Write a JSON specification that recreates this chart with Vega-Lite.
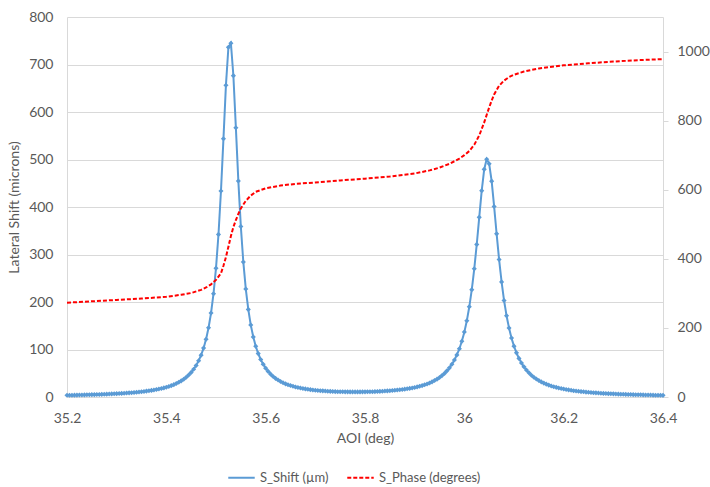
{
"$schema": "https://vega.github.io/schema/vega-lite/v6.json",
"width": 596, "height": 380,
"autosize": {"type": "none"},
"padding": {"left": 67, "top": 17, "right": 47, "bottom": 90},
"background": "white",
"config": {
 "font": "Lato",
 "view": {"stroke": null},
 "axis": {"labelColor": "#595959", "titleColor": "#595959", "labelFont": "Lato", "titleFont": "Lato", "labelFontSize": 14, "titleFontSize": 14, "titleFontWeight": "normal", "gridColor": "#D9D9D9", "domainColor": "#D9D9D9", "tickColor": "#D9D9D9", "labelFlush": false},
 "legend": {"orient": "none", "legendX": 160, "legendY": 446, "direction": "horizontal", "labelFont": "Lato", "labelFontSize": 13, "labelColor": "#595959", "symbolType": "stroke", "symbolSize": 700, "symbolStrokeWidth": 2, "columnPadding": 14}
},
"datasets": {
 "shift": [
{"a":35.200,"s":3.6},{"a":35.205,"s":3.7},{"a":35.210,"s":3.8},{"a":35.215,"s":3.9},{"a":35.220,"s":4.0},{"a":35.225,"s":4.2},{"a":35.230,"s":4.3},{"a":35.235,"s":4.4},{"a":35.240,"s":4.6},{"a":35.245,"s":4.7},
{"a":35.250,"s":4.9},{"a":35.255,"s":5.0},{"a":35.260,"s":5.2},{"a":35.265,"s":5.4},{"a":35.270,"s":5.6},{"a":35.275,"s":5.8},{"a":35.280,"s":6.0},{"a":35.285,"s":6.2},{"a":35.290,"s":6.5},{"a":35.295,"s":6.7},
{"a":35.300,"s":7.0},{"a":35.305,"s":7.3},{"a":35.310,"s":7.6},{"a":35.315,"s":8.0},{"a":35.320,"s":8.3},{"a":35.325,"s":8.7},{"a":35.330,"s":9.1},{"a":35.335,"s":9.6},{"a":35.340,"s":10.0},{"a":35.345,"s":10.5},
{"a":35.350,"s":11.1},{"a":35.355,"s":11.7},{"a":35.360,"s":12.4},{"a":35.365,"s":13.1},{"a":35.370,"s":13.9},{"a":35.375,"s":14.7},{"a":35.380,"s":15.7},{"a":35.385,"s":16.7},{"a":35.390,"s":17.9},{"a":35.395,"s":19.2},
{"a":35.400,"s":20.6},{"a":35.405,"s":22.2},{"a":35.410,"s":24.0},{"a":35.415,"s":26.0},{"a":35.420,"s":28.3},{"a":35.425,"s":30.9},{"a":35.430,"s":34.0},{"a":35.435,"s":37.4},{"a":35.440,"s":41.5},{"a":35.445,"s":46.2},
{"a":35.450,"s":51.8},{"a":35.455,"s":58.4},{"a":35.460,"s":66.4},{"a":35.465,"s":76.2},{"a":35.470,"s":88.1},{"a":35.475,"s":103.0},{"a":35.480,"s":121.7},{"a":35.485,"s":145.7},{"a":35.490,"s":176.7},{"a":35.495,"s":217.5},
{"a":35.500,"s":271.3},{"a":35.505,"s":342.3},{"a":35.510,"s":433.7},{"a":35.515,"s":543.6},{"a":35.520,"s":656.4},{"a":35.525,"s":736.4},{"a":35.530,"s":744.7},{"a":35.535,"s":676.5},{"a":35.540,"s":566.9},{"a":35.545,"s":454.6},
{"a":35.550,"s":359.1},{"a":35.555,"s":284.3},{"a":35.560,"s":227.4},{"a":35.565,"s":184.4},{"a":35.570,"s":151.7},{"a":35.575,"s":126.5},{"a":35.580,"s":106.9},{"a":35.585,"s":91.4},{"a":35.590,"s":79.0},{"a":35.595,"s":69.0},
{"a":35.600,"s":60.7},{"a":35.605,"s":53.9},{"a":35.610,"s":48.1},{"a":35.615,"s":43.3},{"a":35.620,"s":39.2},{"a":35.625,"s":35.7},{"a":35.630,"s":32.7},{"a":35.635,"s":30.0},{"a":35.640,"s":27.7},{"a":35.645,"s":25.8},
{"a":35.650,"s":24.1},{"a":35.655,"s":22.5},{"a":35.660,"s":21.1},{"a":35.665,"s":19.9},{"a":35.670,"s":18.8},{"a":35.675,"s":17.8},{"a":35.680,"s":17.0},{"a":35.685,"s":16.2},{"a":35.690,"s":15.5},{"a":35.695,"s":14.8},
{"a":35.700,"s":14.3},{"a":35.705,"s":13.8},{"a":35.710,"s":13.3},{"a":35.715,"s":12.9},{"a":35.720,"s":12.5},{"a":35.725,"s":12.2},{"a":35.730,"s":11.9},{"a":35.735,"s":11.7},{"a":35.740,"s":11.4},{"a":35.745,"s":11.2},
{"a":35.750,"s":11.1},{"a":35.755,"s":11.0},{"a":35.760,"s":10.8},{"a":35.765,"s":10.8},{"a":35.770,"s":10.7},{"a":35.775,"s":10.7},{"a":35.780,"s":10.7},{"a":35.785,"s":10.7},{"a":35.790,"s":10.7},{"a":35.795,"s":10.8},
{"a":35.800,"s":10.8},{"a":35.805,"s":10.9},{"a":35.810,"s":11.1},{"a":35.815,"s":11.2},{"a":35.820,"s":11.4},{"a":35.825,"s":11.6},{"a":35.830,"s":11.9},{"a":35.835,"s":12.1},{"a":35.840,"s":12.5},{"a":35.845,"s":12.8},
{"a":35.850,"s":13.2},{"a":35.855,"s":13.6},{"a":35.860,"s":14.1},{"a":35.865,"s":14.6},{"a":35.870,"s":15.2},{"a":35.875,"s":15.8},{"a":35.880,"s":16.5},{"a":35.885,"s":17.3},{"a":35.890,"s":18.1},{"a":35.895,"s":19.1},
{"a":35.900,"s":20.1},{"a":35.905,"s":21.3},{"a":35.910,"s":22.6},{"a":35.915,"s":24.0},{"a":35.920,"s":25.7},{"a":35.925,"s":27.5},{"a":35.930,"s":29.6},{"a":35.935,"s":31.9},{"a":35.940,"s":34.6},{"a":35.945,"s":37.6},
{"a":35.950,"s":41.1},{"a":35.955,"s":45.1},{"a":35.960,"s":49.7},{"a":35.965,"s":55.1},{"a":35.970,"s":61.4},{"a":35.975,"s":68.9},{"a":35.980,"s":77.9},{"a":35.985,"s":88.6},{"a":35.990,"s":101.5},{"a":35.995,"s":117.3},
{"a":36.000,"s":136.7},{"a":36.005,"s":160.5},{"a":36.010,"s":189.9},{"a":36.015,"s":226.0},{"a":36.020,"s":269.9},{"a":36.025,"s":321.3},{"a":36.030,"s":378.2},{"a":36.035,"s":434.4},{"a":36.040,"s":479.3},{"a":36.045,"s":500.6},
{"a":36.050,"s":491.2},{"a":36.055,"s":454.4},{"a":36.060,"s":401.2},{"a":36.065,"s":343.5},{"a":36.070,"s":289.4},{"a":36.075,"s":242.3},{"a":36.080,"s":203.1},{"a":36.085,"s":171.1},{"a":36.090,"s":145.2},{"a":36.095,"s":124.1},
{"a":36.100,"s":107.0},{"a":36.105,"s":92.9},{"a":36.110,"s":81.3},{"a":36.115,"s":71.7},{"a":36.120,"s":63.6},{"a":36.125,"s":56.7},{"a":36.130,"s":50.9},{"a":36.135,"s":45.9},{"a":36.140,"s":41.6},{"a":36.145,"s":37.9},
{"a":36.150,"s":34.6},{"a":36.155,"s":31.8},{"a":36.160,"s":29.3},{"a":36.165,"s":27.0},{"a":36.170,"s":25.1},{"a":36.175,"s":23.3},{"a":36.180,"s":21.7},{"a":36.185,"s":20.3},{"a":36.190,"s":19.0},{"a":36.195,"s":17.8},
{"a":36.200,"s":16.7},{"a":36.205,"s":15.8},{"a":36.210,"s":14.9},{"a":36.215,"s":14.1},{"a":36.220,"s":13.3},{"a":36.225,"s":12.6},{"a":36.230,"s":12.0},{"a":36.235,"s":11.4},{"a":36.240,"s":10.9},{"a":36.245,"s":10.3},
{"a":36.250,"s":9.9},{"a":36.255,"s":9.4},{"a":36.260,"s":9.0},{"a":36.265,"s":8.7},{"a":36.270,"s":8.3},{"a":36.275,"s":8.0},{"a":36.280,"s":7.6},{"a":36.285,"s":7.4},{"a":36.290,"s":7.1},{"a":36.295,"s":6.8},
{"a":36.300,"s":6.6},{"a":36.305,"s":6.3},{"a":36.310,"s":6.1},{"a":36.315,"s":5.9},{"a":36.320,"s":5.7},{"a":36.325,"s":5.5},{"a":36.330,"s":5.3},{"a":36.335,"s":5.2},{"a":36.340,"s":5.0},{"a":36.345,"s":4.8},
{"a":36.350,"s":4.7},{"a":36.355,"s":4.6},{"a":36.360,"s":4.4},{"a":36.365,"s":4.3},{"a":36.370,"s":4.2},{"a":36.375,"s":4.1},{"a":36.380,"s":3.9},{"a":36.385,"s":3.8},{"a":36.390,"s":3.7},{"a":36.395,"s":3.6},
{"a":36.400,"s":3.5}
 ],
 "phase": [
{"a":35.20,"p":273},{"a":35.25,"p":277},{"a":35.30,"p":281},{"a":35.35,"p":285},{"a":35.40,"p":290},{"a":35.43,"p":296},{"a":35.45,"p":301},{"a":35.47,"p":310},{"a":35.48,"p":317},{"a":35.49,"p":326},
{"a":35.50,"p":339},{"a":35.51,"p":358},{"a":35.515,"p":380},{"a":35.52,"p":405},{"a":35.525,"p":435},{"a":35.53,"p":466},{"a":35.535,"p":492},{"a":35.54,"p":512},{"a":35.545,"p":530},{"a":35.55,"p":546},
{"a":35.56,"p":568},{"a":35.57,"p":583},{"a":35.58,"p":594},{"a":35.60,"p":604},{"a":35.63,"p":612},{"a":35.66,"p":617},{"a":35.70,"p":621},{"a":35.75,"p":627},{"a":35.80,"p":632},{"a":35.85,"p":638},
{"a":35.90,"p":647},{"a":35.93,"p":656},{"a":35.95,"p":664},{"a":35.97,"p":675},{"a":35.99,"p":690},{"a":36.00,"p":700},{"a":36.01,"p":712},{"a":36.02,"p":730},{"a":36.03,"p":757},{"a":36.04,"p":795},
{"a":36.046,"p":821},{"a":36.05,"p":838},{"a":36.055,"p":858},{"a":36.06,"p":876},{"a":36.07,"p":901},{"a":36.08,"p":916},{"a":36.09,"p":926},{"a":36.10,"p":933},{"a":36.12,"p":942},{"a":36.15,"p":951},
{"a":36.20,"p":960},{"a":36.25,"p":966},{"a":36.30,"p":971},{"a":36.35,"p":975},{"a":36.40,"p":978}
 ]
},
"layer": [
 {
  "data": {"name": "shift"},
  "transform": [{"fold": ["s"], "as": ["series", "v"]}],
  "encoding": {
   "x": {"field": "a", "type": "quantitative", "scale": {"domain": [35.2, 36.4], "nice": false, "zero": false},
         "axis": {"values": [35.2, 35.4, 35.6, 35.8, 36, 36.2, 36.4], "format": "~g", "grid": false, "ticks": false, "title": "AOI (deg)", "labelPadding": 14, "titlePadding": 6}},
   "y": {"field": "v", "type": "quantitative", "scale": {"domain": [0, 800], "nice": false},
         "axis": {"values": [0, 100, 200, 300, 400, 500, 600, 700, 800], "grid": true, "ticks": false, "title": "Lateral Shift (microns)", "labelPadding": 14, "titlePadding": 7}}
  },
  "layer": [
   {"mark": {"type": "line", "strokeWidth": 2},
    "encoding": {
     "color": {"field": "series", "type": "nominal", "scale": {"domain": ["s", "p"], "range": ["#5B9BD5", "#FF0000"]}, "legend": {"title": null, "labelExpr": "datum.value == 's' ? 'S_Shift (µm)' : 'S_Phase (degrees)'"}},
     "strokeDash": {"field": "series", "type": "nominal", "scale": {"domain": ["s", "p"], "range": [[1, 0], [4, 2]]}, "legend": {"title": null, "labelExpr": "datum.value == 's' ? 'S_Shift (µm)' : 'S_Phase (degrees)'"}}
    }},
   {"mark": {"type": "point", "shape": "diamond", "filled": true, "size": 26, "color": "#5B9BD5", "opacity": 1}}
  ]
 },
 {
  "data": {"name": "phase"},
  "transform": [{"fold": ["p"], "as": ["series", "v"]}],
  "mark": {"type": "line", "strokeWidth": 2},
  "encoding": {
   "x": {"field": "a", "type": "quantitative", "scale": {"domain": [35.2, 36.4], "nice": false, "zero": false}},
   "y": {"field": "v", "type": "quantitative", "scale": {"domain": [0, 1100], "nice": false},
         "axis": {"orient": "right", "values": [0, 200, 400, 600, 800, 1000], "format": "d", "grid": false, "ticks": true, "tickSize": 5, "title": null, "labelPadding": 9}},
   "color": {"field": "series", "type": "nominal", "scale": {"domain": ["s", "p"], "range": ["#5B9BD5", "#FF0000"]}, "legend": {"title": null, "labelExpr": "datum.value == 's' ? 'S_Shift (µm)' : 'S_Phase (degrees)'"}},
   "strokeDash": {"field": "series", "type": "nominal", "scale": {"domain": ["s", "p"], "range": [[1, 0], [4, 2]]}, "legend": {"title": null, "labelExpr": "datum.value == 's' ? 'S_Shift (µm)' : 'S_Phase (degrees)'"}}
  }
 }
],
"resolve": {"scale": {"y": "independent"}}
}
